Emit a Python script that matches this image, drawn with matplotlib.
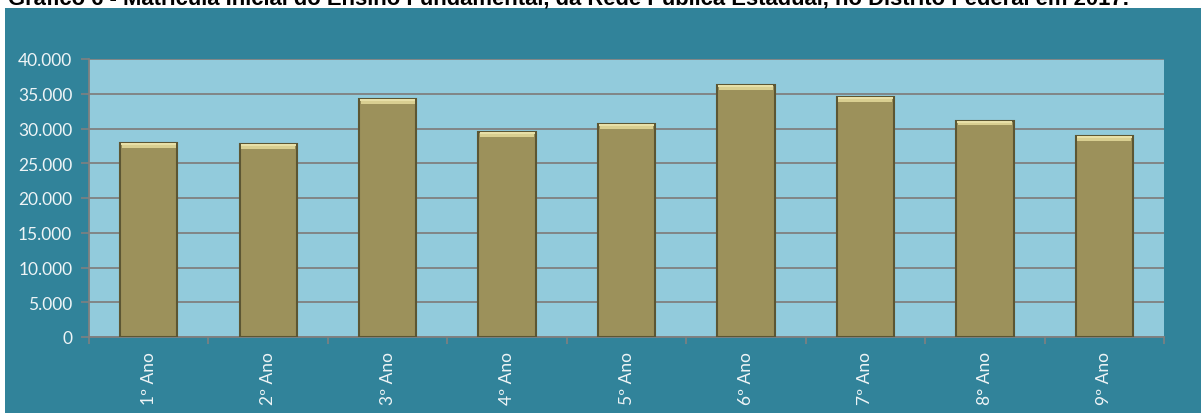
import numpy as np
import matplotlib.pyplot as plt
from matplotlib.patches import Rectangle
from matplotlib.ticker import FuncFormatter

# dados
anos = ['1º Ano', '2º Ano', '3º Ano', '4º Ano', '5º Ano', '6º Ano', '7º Ano', '8° Ano', '9º Ano']
matriculas = [27900, 27700, 34200, 29450, 30650, 36200, 34500, 31100, 28900]
yticks = [0, 5000, 10000, 15000, 20000, 25000, 30000, 35000, 40000]

titulo = ('Gráfico 6 - Matrícula Inicial do Ensino Fundamental, da Rede Pública Estadual, '
          'no Distrito Federal em 2017.')

teal = '#31839A'
fundo = '#92CBDC'
barra = '#9C915B'
borda = '#5C5633'
brilho = '#D9CF91'

fig = plt.figure(figsize=(12.01, 4.14), dpi=100, facecolor='white')
W, H = 1201, 414

# faixa azul-petróleo atrás do gráfico
fig.patches.append(Rectangle((5 / W, 0), 1 - 5 / W, 1 - 9 / H, transform=fig.transFigure,
                             facecolor=teal, edgecolor='none', zorder=-5))

# o título aparece cortado na borda superior, como no original
fig.text(8 / W, 1 - 5 / H, titulo, fontsize=15.8, fontweight='bold',
         family='Liberation Sans', color='black', va='baseline', ha='left')

ax = fig.add_axes([89 / W, 1 - 338 / H, (1164 - 89) / W, (338 - 60) / H])
ax.set_zorder(2)
ax.set_facecolor(fundo)

x = np.arange(len(anos))
largura = 0.48
ax.bar(x, matriculas, width=largura, color=barra, edgecolor=borda, linewidth=1.5, zorder=3)
# bisel claro no topo de cada barra
faixa = 650
ax.bar(x, [faixa] * len(anos), bottom=np.array(matriculas) - faixa, width=largura * 0.94,
       color=brilho, edgecolor='none', zorder=4)
ax.bar(x, [faixa * 0.4] * len(anos), bottom=np.array(matriculas) - faixa * 0.4,
       width=largura * 0.96, color='#E8E0A8', edgecolor='none', zorder=5)

ax.set_xlim(-0.5, len(anos) - 0.5)
ax.set_ylim(0, 40000)
ax.set_yticks(yticks)
ax.yaxis.set_major_formatter(FuncFormatter(lambda v, p: f'{int(v):,}'.replace(',', '.')))
ax.grid(axis='y', color='#808080', linewidth=1.3, zorder=1)
ax.set_axisbelow(True)

ax.set_xticks(x)
ax.set_xticklabels(anos, rotation=90)
ax.set_xticks(np.arange(len(anos) + 1) - 0.5, minor=True)
ax.tick_params(axis='x', which='major', length=0, pad=10)
ax.tick_params(axis='x', which='minor', length=5, color='#808080', width=1.2, direction='out')
ax.tick_params(axis='y', length=6, color='#808080', width=1.2, pad=6)

for lab in ax.get_xticklabels() + ax.get_yticklabels():
    lab.set_fontfamily('Lato')
    lab.set_fontsize(12.5)
    lab.set_color('#EEF4F6')

for s in ['top', 'right']:
    ax.spines[s].set_visible(False)
for s in ['left', 'bottom']:
    ax.spines[s].set_color('#808080')
    ax.spines[s].set_linewidth(1.3)

fig.savefig('out.png', dpi=100, facecolor=fig.get_facecolor())
